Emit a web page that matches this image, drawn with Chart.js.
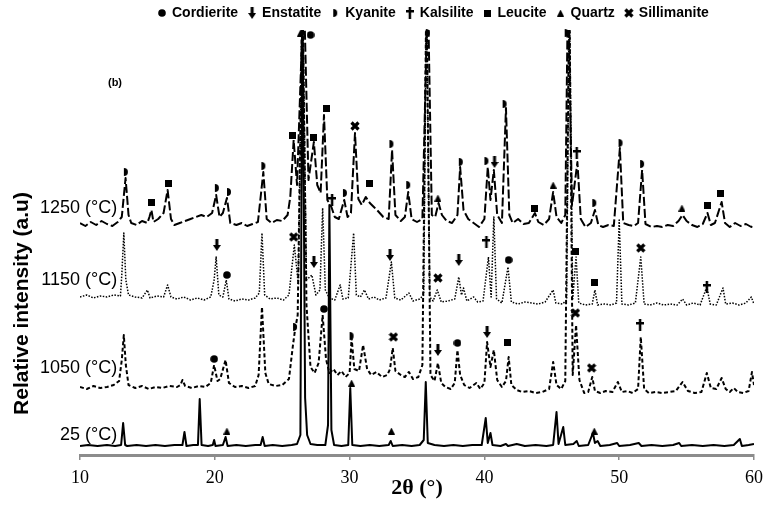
<!DOCTYPE html>
<html>
<head>
<meta charset="utf-8">
<script src="https://cdn.jsdelivr.net/npm/chart.js@4.4.0/dist/chart.umd.min.js"></script>
<style>
body { margin: 0; background: #fff; }
</style>
</head>
<body>
<canvas id="xrd" width="770" height="505"></canvas>
<script>
/*---------------------------- data ------------------------------------*/

var temps = ['25', '1050', '1150', '1250'];

// patterns as [2theta, intensity], already stacked with an offset
var s25 = [[10,9],[10.6,10],[11.3,9],[12,10],[12.6,9],[13.05,10],[13.2,32],[13.35,10],[13.5,9],[14.2,10],[14.9,9],[15.6,10],[16.3,9],[17,10],[17.6,10],[17.75,23],[17.9,9],[18.4,10],[18.75,10],[18.88,56],[19.02,10],[19.5,9],[19.85,10],[19.95,15],[20.05,9],[20.6,10],[20.8,18],[20.95,9],[21.6,10],[22.3,9],[23,10],[23.4,10],[23.55,18],[23.7,9],[24.3,10],[25,9],[25.7,10],[26.1,11],[26.35,20],[26.5,470],[26.7,57],[26.85,20],[27.1,11],[27.6,10],[28.2,10],[28.4,30],[28.5,250],[28.65,25],[28.85,10],[29.4,9],[29.9,10],[30.05,67],[30.2,10],[30.8,9],[31.5,10],[32.2,9],[32.9,10],[33.05,14],[33.2,9],[33.9,10],[34.6,9],[35.2,10],[35.5,15],[35.65,73],[35.8,12],[36.3,10],[37,9],[37.7,10],[38.4,9],[39.1,10],[39.8,10],[40.1,37],[40.25,12],[40.45,22],[40.6,10],[41.2,9],[41.6,11],[41.75,9],[42.4,11],[43,9],[43.8,10],[44.6,9],[45.1,10],[45.35,43],[45.5,11],[45.85,28],[46,10],[46.6,11],[46.85,14],[47,9],[47.7,10],[48.05,22],[48.2,12],[48.4,14],[48.6,9],[49.3,10],[49.85,12],[50,9],[50.8,10],[51.45,12],[51.65,9],[52.4,10],[53.2,9],[54,10],[54.45,12],[54.6,9],[55.4,10],[56.2,9],[57,10],[57.8,9],[58.5,10],[58.95,16],[59.1,9],[59.6,10],[60,11]];

var s1050 = [[10,68],[10.5,66],[11,69],[11.5,67],[12,68],[12.5,70],[12.9,74],[13.1,95],[13.25,120],[13.4,90],[13.6,70],[14.1,67],[14.6,69],[15.1,66],[15.6,68],[16.1,67],[16.6,69],[17.2,68],[17.45,70],[17.6,75],[17.8,69],[18.3,67],[18.8,69],[19.3,68],[19.7,72],[19.95,90],[20.2,74],[20.4,76],[20.8,95],[21.05,72],[21.5,68],[22,69],[22.5,67],[23,69],[23.25,80],[23.5,148],[23.75,82],[24,71],[24.5,69],[25,70],[25.5,76],[25.8,110],[25.95,125],[26.15,140],[26.5,470],[26.8,150],[27.1,88],[27.4,82],[27.7,92],[28,140],[28.25,96],[28.5,82],[28.8,86],[29.1,80],[29.4,84],[29.7,78],[30,82],[30.15,117],[30.35,86],[30.7,84],[31,110],[31.3,86],[31.6,80],[32,83],[32.4,78],[32.8,80],[33,86],[33.2,107],[33.4,84],[33.8,80],[34.1,78],[34.4,83],[34.7,76],[35.1,78],[35.4,90],[35.7,470],[36,80],[36.3,74],[36.55,92],[36.8,72],[37.1,68],[37.5,66],[37.8,72],[38,105],[38.2,80],[38.5,70],[38.9,67],[39.4,72],[39.7,66],[40,72],[40.2,113],[40.45,88],[40.7,105],[40.95,75],[41.3,68],[41.6,74],[41.8,98],[42,70],[42.4,65],[42.8,63],[43.3,64],[43.8,62],[44.3,63],[44.8,66],[45.1,93],[45.35,70],[45.7,66],[46,74],[46.3,470],[46.55,80],[46.8,130],[47.05,75],[47.4,62],[47.7,63],[48,78],[48.2,64],[48.6,62],[49,64],[49.5,63],[49.9,73],[50.2,63],[50.6,64],[51,62],[51.4,66],[51.6,118],[51.85,66],[52.2,62],[52.7,63],[53.2,62],[53.7,63],[54.2,64],[54.7,73],[55.1,64],[55.6,62],[56.1,63],[56.5,82],[56.8,67],[57.2,66],[57.6,77],[57.9,66],[58.2,63],[58.5,67],[58.8,63],[59.2,62],[59.6,64],[59.85,83],[60,70]];

var s1150 = [[10,158],[10.5,160],[11,157],[11.5,159],[12,158],[12.5,160],[13,159],[13.1,180],[13.25,222],[13.4,175],[13.6,160],[14.1,158],[14.6,157],[15,165],[15.2,157],[15.7,159],[16.2,158],[16.5,170],[16.75,158],[17.2,156],[17.7,158],[18.2,155],[18.7,157],[19.2,155],[19.7,158],[19.95,175],[20.1,198],[20.3,160],[20.6,158],[20.85,175],[21.05,156],[21.5,154],[22,156],[22.5,155],[23,157],[23.3,162],[23.5,222],[23.7,160],[24.1,156],[24.6,157],[25.1,155],[25.5,160],[25.9,210],[26.2,170],[26.5,470],[26.8,175],[27.2,180],[27.5,160],[27.8,165],[28,247],[28.2,165],[28.5,157],[28.9,155],[29.3,170],[29.5,156],[29.9,157],[30.3,222],[30.5,160],[30.8,158],[31.1,165],[31.4,156],[31.8,158],[32.2,155],[32.7,157],[33.1,193],[33.35,157],[33.8,155],[34.4,162],[34.7,154],[35.2,156],[35.5,160],[35.7,470],[35.95,158],[36.2,154],[36.5,165],[36.8,153],[37.3,154],[37.8,156],[38.1,178],[38.3,160],[38.45,167],[38.7,154],[39.2,158],[39.5,153],[39.9,154],[40.3,198],[40.5,158],[40.7,238],[40.9,156],[41.3,152],[41.75,188],[42,153],[42.5,151],[43,153],[43.5,152],[44,151],[44.5,153],[45.1,165],[45.3,152],[45.8,151],[46.1,155],[46.3,470],[46.55,156],[46.8,198],[47,152],[47.5,150],[48,151],[48.2,165],[48.4,150],[48.9,151],[49.4,150],[49.8,152],[50,235],[50.2,151],[50.7,150],[51.2,152],[51.6,198],[51.85,151],[52.3,150],[52.8,152],[53.3,150],[53.8,151],[54.3,150],[54.7,156],[55,150],[55.5,152],[56,150],[56.5,168],[56.75,151],[57.2,150],[57.7,167],[57.9,151],[58.4,152],[58.9,150],[59.4,152],[59.8,158],[60,151]];

var s1250 = [[10,232],[10.4,229],[10.8,233],[11.2,230],[11.6,234],[12,231],[12.4,229],[12.8,233],[13.1,238],[13.38,277],[13.6,240],[13.8,232],[14.2,230],[14.6,234],[15,232],[15.15,238],[15.3,245],[15.45,233],[15.8,236],[16.2,242],[16.5,265],[16.75,236],[17,230],[17.4,232],[17.8,234],[18.2,236],[18.6,238],[19,240],[19.4,238],[19.8,242],[20.1,260],[20.35,238],[20.6,242],[20.9,257],[21.15,232],[21.6,230],[22,232],[22.4,229],[22.8,231],[23.2,233],[23.6,283],[23.85,236],[24.2,232],[24.6,235],[25,234],[25.4,240],[25.6,258],[25.85,315],[26.1,270],[26.6,470],[26.95,275],[27.35,313],[27.6,270],[27.85,262],[28.1,340],[28.35,255],[28.65,248],[28.9,238],[29.2,236],[29.6,255],[29.85,238],[30.1,242],[30.4,322],[30.65,256],[30.9,250],[31.2,258],[31.5,252],[31.8,248],[32.1,244],[32.5,238],[32.9,236],[33.15,305],[33.4,240],[33.8,234],[34.1,238],[34.35,263],[34.6,236],[35,233],[35.4,236],[35.8,470],[36.1,240],[36.35,238],[36.6,252],[36.85,240],[37.2,234],[37.6,232],[38,240],[38.2,288],[38.45,245],[38.8,236],[39.2,232],[39.6,228],[40,236],[40.25,288],[40.45,255],[40.7,285],[40.95,240],[41.3,232],[41.6,347],[41.85,240],[42.1,232],[42.5,236],[42.9,231],[43.3,232],[43.75,242],[44,233],[44.4,230],[44.8,236],[45.1,263],[45.35,238],[45.7,232],[46,240],[46.2,470],[46.5,250],[46.9,293],[47.15,236],[47.5,228],[47.9,232],[48.2,245],[48.45,230],[48.8,228],[49.2,230],[49.6,229],[50.05,307],[50.3,232],[50.7,230],[51.1,229],[51.4,232],[51.7,285],[51.95,231],[52.4,228],[52.8,229],[53.2,228],[53.6,230],[54,229],[54.4,234],[54.7,240],[55,234],[55.4,230],[55.8,228],[56.2,231],[56.55,242],[56.8,230],[57.1,232],[57.6,253],[57.85,232],[58.2,228],[58.6,232],[59,229],[59.4,231],[59.8,228],[60,230]];

// phase markers [2theta, height]
var phaseNames = ['Cordierite', 'Enstatite', 'Kyanite', 'Kalsilite', 'Leucite', 'Quartz', 'Sillimanite'];
var cordierite = [[27.1,420],[20.9,180],[41.8,195],[19.95,96],[28.1,146],[38.0,112]];
var enstatite = [[40.75,293],[20.15,210],[27.35,193],[33.0,200],[38.1,195],[36.55,105],[40.2,123]];
var kyanite = [[13.4,283],[20.15,267],[21.05,263],[23.6,289],[29.65,262],[33.1,311],[34.35,270],[35.8,422],[38.25,293],[40.15,294],[41.5,351],[46.1,422],[48.15,252],[50.1,312],[51.7,291],[25.95,128],[30.15,119]];
var kalsilite = [[28.7,255],[46.85,302],[40.15,213],[56.5,168],[51.55,130]];
var leucite = [[15.3,253],[16.6,272],[25.8,320],[27.35,318],[28.25,347],[31.45,272],[43.75,247],[56.55,250],[57.55,262],[46.75,204],[48.15,173],[41.75,113]];
var quartz = [[26.35,422],[20.9,24],[30.15,72],[33.1,24],[48.15,24],[36.55,257],[45.1,270],[54.65,247]];
var sillimanite = [[30.4,329],[25.85,218],[36.55,177],[51.6,207],[46.75,142],[33.25,118],[47.95,87]];

/*---------------------------- symbols ------------------------------------*/

function symbol(kind) {
  var c = document.createElement('canvas');
  var g;
  if (kind == 'circle') { c.width = 8; c.height = 8; }
  else if (kind == 'arrow') { c.width = 8; c.height = 12; }
  else if (kind == 'half') { c.width = 6; c.height = 8; }
  else if (kind == 'cross') { c.width = 8; c.height = 12; }
  else if (kind == 'square') { c.width = 7; c.height = 7; }
  else if (kind == 'triangle') { c.width = 7; c.height = 7; }
  else { c.width = 10; c.height = 10; }
  g = c.getContext('2d');
  g.fillStyle = '#000';
  g.strokeStyle = '#000';
  g.beginPath();
  if (kind == 'circle') {
    g.arc(4, 4, 3.8, 0, Math.PI * 2); g.fill();
  } else if (kind == 'arrow') {
    g.fillRect(2.5, 0, 3, 7);
    g.moveTo(0, 6); g.lineTo(8, 6); g.lineTo(4, 12); g.closePath(); g.fill();
  } else if (kind == 'half') {
    g.arc(1, 4, 4, -Math.PI / 2, Math.PI / 2); g.closePath(); g.fill();
  } else if (kind == 'cross') {
    g.fillRect(2.75, 0, 2.5, 12); g.fillRect(0, 3, 8, 2.5);
  } else if (kind == 'square') {
    g.fillRect(0, 0, 7, 7);
  } else if (kind == 'triangle') {
    g.moveTo(3.5, 0); g.lineTo(7, 7); g.lineTo(0, 7); g.closePath(); g.fill();
  } else {
    g.lineWidth = 3.2;
    g.moveTo(1.5, 1.5); g.lineTo(8.5, 8.5); g.moveTo(8.5, 1.5); g.lineTo(1.5, 8.5); g.stroke();
  }
  return c;
}

var symbols = ['circle', 'arrow', 'half', 'cross', 'square', 'triangle', 'x'].map(symbol);
var markerSets = [cordierite, enstatite, kyanite, kalsilite, leucite, quartz, sillimanite];

function toXY(p) { return {x: p[0], y: p[1]}; }

var datasets = [];
phaseNames.forEach(function (n, i) {
  datasets.push({
    label: n,
    data: markerSets[i].map(toXY),
    showLine: false,
    pointStyle: symbols[i],
    pointRadius: 5,
    pointHoverRadius: 5,
    borderColor: '#000',
    backgroundColor: '#000',
    clip: false
  });
});

var lineStyles = [
  {dash: [], w: 2},
  {dash: [4, 2.5], w: 2},
  {dash: [1.5, 1.5], w: 1.5},
  {dash: [9, 3], w: 2}
];
[s25, s1050, s1150, s1250].forEach(function (s, i) {
  datasets.push({
    label: temps[i],
    data: s.map(toXY),
    borderColor: '#000',
    borderWidth: lineStyles[i].w,
    borderDash: lineStyles[i].dash,
    borderJoinStyle: 'round',
    pointRadius: 0,
    tension: 0
  });
});

/*---------------------------- chart ------------------------------------*/

var tweaks = {
  id: 'tweaks',
  afterLayout: function (chart) {
    // legend row starts under the plot, y title sits lower like in the paper
    var lg = chart.legend;
    var dx = 148 - lg.left;
    lg.left += dx;
    lg.right += dx;
    chart.scales.y.bottom += 122;
  },
  afterDraw: function (chart) {
    var ctx = chart.ctx, a = chart.chartArea;
    ctx.save();
    ctx.fillStyle = '#000';
    ctx.font = 'bold 11px "Liberation Sans", Arial, sans-serif';
    ctx.textAlign = 'center';
    ctx.textBaseline = 'middle';
    ctx.fillText('(b)', a.left + 35, a.top + 53);
    ctx.restore();
  }
};

new Chart('xrd', {
  type: 'line',
  data: {datasets: datasets},
  plugins: [tweaks],
  options: {
    responsive: false,
    animation: false,
    events: [],
    layout: {padding: {top: -5, right: 10, left: 0, bottom: 0}},
    plugins: {
      tooltip: {enabled: false},
      legend: {
        position: 'top',
        align: 'start',
        labels: {
          filter: function (item) { return item.datasetIndex < phaseNames.length; },
          usePointStyle: true,
          pointStyleWidth: 6,
          padding: 11,
          color: '#000',
          font: {family: '"Liberation Sans", Arial, sans-serif', size: 14, weight: 'bold'}
        }
      }
    },
    scales: {
      x: {
        type: 'linear',
        min: 10,
        max: 60,
        bounds: 'data',
        afterFit: function (s) { s.height = 50; },
        ticks: {stepSize: 10, color: '#000', padding: 7,
          font: {family: '"Liberation Serif", "Times New Roman", serif', size: 18}},
        grid: {display: true, drawOnChartArea: false, drawTicks: true, tickLength: 5, color: '#8c8c8c', lineWidth: 1.5},
        border: {display: true, color: '#8c8c8c', width: 3},
        title: {display: true, text: '2θ (°)', color: '#000', padding: {top: 0, bottom: 3},
          font: {family: '"Liberation Serif", "Times New Roman", serif', size: 22, weight: 'bold'}}
      },
      y: {
        min: 0,
        max: 425,
        bounds: 'data',
        afterFit: function (s) { s.width = 80; },
        afterBuildTicks: function (s) {
          s.ticks = [20, 87, 175, 247].map(function (v) { return {value: v}; });
        },
        ticks: {
          mirror: true,
          crossAlign: 'far',
          padding: -40,
          color: '#000',
          font: {family: '"Liberation Sans", Arial, sans-serif', size: 18},
          callback: function (v, i) { return temps[i] + ' (°C)'; }
        },
        grid: {display: false, drawTicks: false},
        border: {display: false},
        title: {display: true, text: 'Relative intensity (a.u)', color: '#000', padding: {top: 10, bottom: 0},
          font: {family: '"Liberation Sans", Arial, sans-serif', size: 21, weight: 'bold'}}
      }
    }
  }
});
</script>
</body>
</html>
